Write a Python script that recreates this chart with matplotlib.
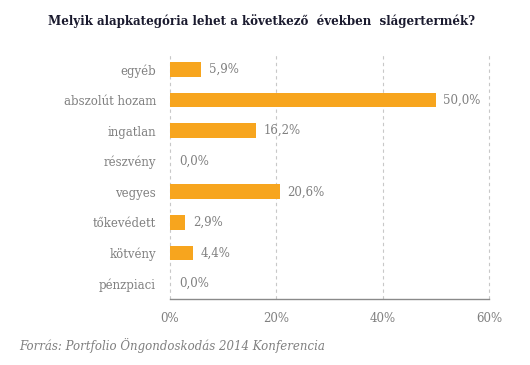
import matplotlib
matplotlib.use("Agg")
import matplotlib.pyplot as plt

categories = ["egyéb", "abszolút hozam", "ingatlan", "részvény", "vegyes", "tőkevédett", "kötvény", "pénzpiaci"]
values = [5.9, 50.0, 16.2, 0.0, 20.6, 2.9, 4.4, 0.0]
xticks = [0, 20, 40, 60]
xticklabels = ["0%", "20%", "40%", "60%"]
title = "Melyik alapkategória lehet a következő  években  slágertermék?"
source = "Forrás: Portfolio Öngondoskodás 2014 Konferencia"

plt.rcParams['font.family'] = ['DejaVu Serif']
gray = "#808080"
orange = "#F7A51E"

fig = plt.figure(figsize=(5.3, 3.65), dpi=100)
ax = fig.add_axes([170/530, 1-299/365, (489-170)/530, (299-54)/365])

y = list(range(len(categories)))
ax.barh(y, values, height=0.48, color=orange, zorder=3)
for yi, v in zip(y, values):
    ax.annotate(f"{v:.1f}%".replace(".", ","), xy=(v, yi), xytext=(5.5 if v > 0 else 6.5, 0),
                textcoords="offset points", va="center", ha="left", fontsize=8.5, color=gray)

ax.set_ylim(len(categories) - 0.5, -0.5)
ax.set_xlim(0, 60)
ax.set_yticks(y)
ax.set_yticklabels(categories, fontsize=8.5, color=gray)
ax.set_xticks(xticks)
ax.set_xticklabels(xticklabels, fontsize=8.5, color=gray)
ax.tick_params(axis="both", length=0, pad=9)
ax.tick_params(axis="y", pad=10)
for s in ["top", "right", "left"]:
    ax.spines[s].set_visible(False)
ax.spines["bottom"].set_color("#8a8a8a")
ax.spines["bottom"].set_linewidth(1.0)
for xv in xticks:
    ax.axvline(xv, linestyle=(0, (3, 3)), color="#c8c8c8", linewidth=0.8, zorder=0, clip_on=False)

fig.text(262/530, 1-21/365, title, ha="center", va="center", fontsize=8.6, fontweight="bold", color="#1a1a2e")
fig.text(19/530, 1-346/365, source, ha="left", va="center", fontsize=8.5, style="italic", color=gray)

fig.savefig("out.png", dpi=100)
